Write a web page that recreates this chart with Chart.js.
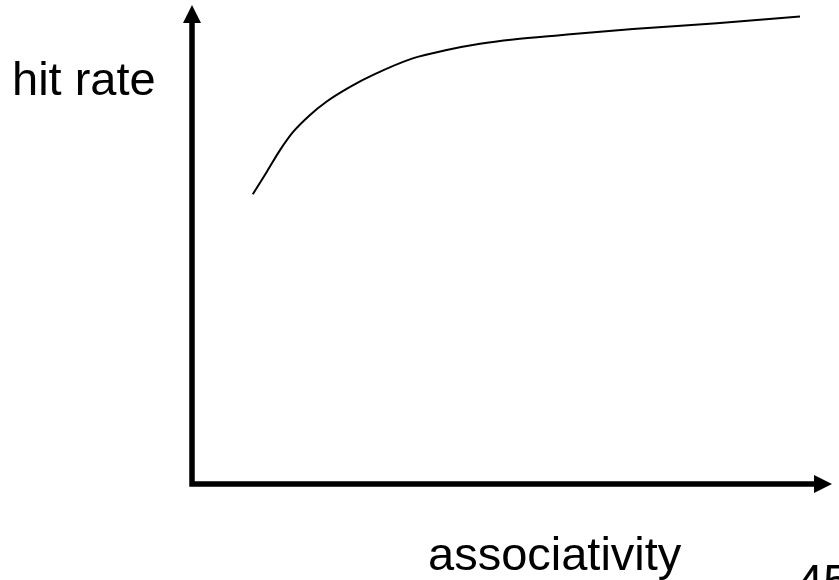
<!DOCTYPE html>
<html>
<head>
<meta charset="utf-8">
<title>hit rate vs associativity</title>
<script src="https://cdn.jsdelivr.net/npm/chart.js@4.4.1/dist/chart.umd.min.js"></script>
<style>
  html, body { margin: 0; padding: 0; background: #fff; overflow: hidden; }
  #wrap { position: relative; width: 839px; height: 580px; }
  #wrap canvas { position: absolute; left: 0; top: 0; }
  .lbl { position: absolute; font-family: "Liberation Sans", Arial, sans-serif; font-size: 47px; line-height: 47px; color: #000; white-space: nowrap; }
</style>
</head>
<body>
<div id="wrap">
  <canvas id="chart" width="839" height="580"></canvas>
  <div class="lbl" style="left:12px; top:55px;">hit rate</div>
  <div class="lbl" style="left:428px; top:530px;">associativity</div>
  <div class="lbl" style="left:797px; top:557px;">45</div>
</div>
<script>
// curve (x: associativity, y: hit rate, arbitrary units)
const assocValues = [0.95, 1.17, 1.375, 1.58, 1.84, 2.10, 2.47, 2.83, 3.46, 3.98, 4.5, 5.02, 5.75, 6.89, 8.2, 9.5];
const hitRateValues = [60.5, 65.2, 69.7, 73.5, 77.0, 79.8, 82.9, 85.4, 88.9, 90.6, 91.9, 92.8, 93.7, 95.0, 96.2, 97.6];

const xRange = [0, 10];
const yRange = [0, 100];

// draws the two thick axes with arrow heads at the ends
const arrowAxes = {
  id: "arrowAxes",
  afterDraw(chart) {
    const ctx = chart.ctx;
    const x = chart.scales.x, y = chart.scales.y;
    const x0 = x.getPixelForValue(xRange[0]);
    const x1 = x.getPixelForValue(xRange[1]);
    const y0 = y.getPixelForValue(yRange[0]);
    const y1 = y.getPixelForValue(yRange[1]);
    const head = 18, half = 9;
    ctx.save();
    ctx.strokeStyle = "#000";
    ctx.fillStyle = "#000";
    ctx.lineWidth = 5.5;
    ctx.lineCap = "butt";
    ctx.lineJoin = "miter";
    ctx.beginPath();
    ctx.moveTo(x0, y1 + head);
    ctx.lineTo(x0, y0);
    ctx.lineTo(x1 - head, y0);
    ctx.stroke();
    // y arrow
    ctx.beginPath();
    ctx.moveTo(x0, y1);
    ctx.lineTo(x0 - half, y1 + head);
    ctx.lineTo(x0 + half, y1 + head);
    ctx.closePath();
    ctx.fill();
    // x arrow
    ctx.beginPath();
    ctx.moveTo(x1, y0);
    ctx.lineTo(x1 - head, y0 - half);
    ctx.lineTo(x1 - head, y0 + half);
    ctx.closePath();
    ctx.fill();
    ctx.restore();
  }
};

const points = assocValues.map((v, i) => ({ x: v, y: hitRateValues[i] }));

new Chart(document.getElementById("chart"), {
  type: "line",
  data: {
    datasets: [{
      data: points,
      borderColor: "#000",
      borderWidth: 2,
      pointRadius: 0,
      fill: false,
      cubicInterpolationMode: "monotone"
    }]
  },
  options: {
    responsive: false,
    animation: false,
    layout: { padding: { left: 192, right: 7, top: 5, bottom: 96 } },
    plugins: { legend: { display: false }, tooltip: { enabled: false } },
    scales: {
      x: { type: "linear", min: xRange[0], max: xRange[1], display: false },
      y: { type: "linear", min: yRange[0], max: yRange[1], display: false }
    }
  },
  plugins: [arrowAxes]
});
</script>
</body>
</html>
